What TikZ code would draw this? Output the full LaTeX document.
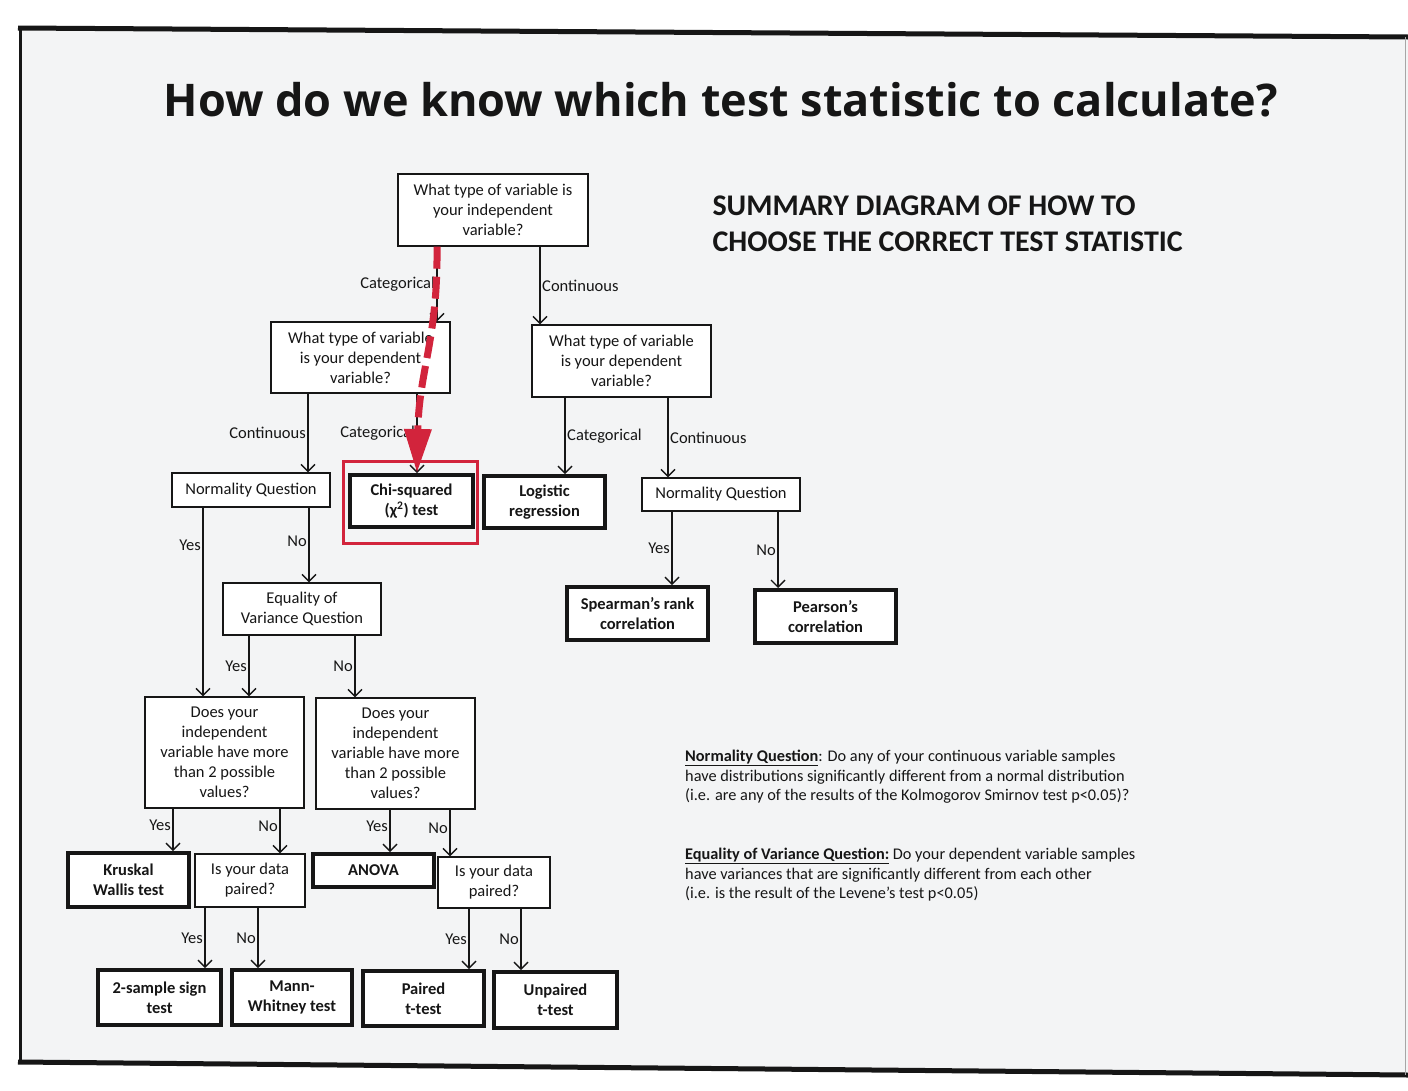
\documentclass[tikz,border=0pt]{standalone}
\usepackage{fontspec}
\setmainfont{Carlito}
\newfontfamily\titlefont{Open Sans}
\usetikzlibrary{arrows.meta}
\definecolor{ink}{HTML}{161616}
\definecolor{paper}{HTML}{F3F4F5}
\definecolor{redmark}{HTML}{D2243C}
\tikzset{
  qbox/.style={draw=ink, line width=1.4pt, fill=white, align=center, text=ink, inner sep=0pt,
    font=\fontsize{16.5}{20}\selectfont},
  rbox/.style={draw=ink, line width=4pt, fill=white, align=center, text=ink, inner sep=0pt,
    font=\bfseries\fontsize{16.5}{20}\selectfont},
  arr/.style={draw=ink, line width=1.4pt, -{Straight Barb[length=7pt,width=14pt,line width=1.4pt]}},
  lab/.style={text=ink, inner sep=1.5pt, font=\fontsize{16.5}{18}\selectfont},
  note/.style={text=ink, anchor=north west, align=left, inner sep=0pt, font=\fontsize{16.3}{19.5}\selectfont},
}
\begin{document}
\begin{tikzpicture}[x=1pt,y=-1pt]
\useasboundingbox (0,0) rectangle (1408,1090);
\fill[white] (0,0) rectangle (1408,1090);
\fill[paper] (20,28) -- (1408,37) -- (1408,1075) -- (20,1062) -- cycle;
% frame
\draw[ink, line width=5pt] (18,28) -- (1408,37);
\draw[ink, line width=3pt] (20,28) -- (20,1063);
\draw[ink, line width=5pt] (18,1062) -- (1408,1075);
\draw[black!35, line width=1pt] (1405,37) -- (1405,1075);

% title
\node[text=ink, font=\titlefont\bfseries\fontsize{45}{50}\selectfont] (title) at (721,100) {How do we know which test statistic to calculate?};
\node[text=ink, anchor=west, align=left, font=\bfseries\fontsize{30}{36}\selectfont] (summary) at (709,224) {SUMMARY DIAGRAM OF HOW TO\\CHOOSE THE CORRECT TEST STATISTIC};

% nodes
\node[qbox, minimum width=190pt, minimum height=72pt] (top) at (493,210) {What type of variable is\\your independent\\variable?};
\node[qbox, minimum width=179pt, minimum height=71pt] (dl) at (360.5,357.5) {What type of variable\\is your dependent\\variable?};
\node[qbox, minimum width=179pt, minimum height=72pt] (dr) at (621.5,361) {What type of variable\\is your dependent\\variable?};
\node[qbox, minimum width=158pt, minimum height=34pt] (nq1) at (251,490) {Normality Question};
\node[draw=redmark, line width=3pt, minimum width=134pt, minimum height=82pt] (redbox) at (410,502) {};
\node[rbox, minimum width=123pt, minimum height=52pt] (chi) at (411.5,501) {Chi-squared\\(χ\textsuperscript{2}) test};
\node[rbox, minimum width=121pt, minimum height=52pt] (log) at (544.5,502) {Logistic\\regression};
\node[qbox, minimum width=158pt, minimum height=33pt] (nq2) at (721,494.5) {Normality Question};
\node[rbox, minimum width=141pt, minimum height=53pt] (spr) at (637.5,613.5) {Spearman's rank\\correlation};
\node[rbox, minimum width=141pt, minimum height=53pt] (prs) at (825.5,616.5) {Pearson's\\correlation};
\node[qbox, minimum width=158pt, minimum height=52pt] (eq) at (302,609) {Equality of\\Variance Question};
\node[qbox, minimum width=159pt, minimum height=111pt] (dv1) at (224.5,752.5) {Does your\\independent\\variable have more\\than 2 possible\\values?};
\node[qbox, minimum width=159pt, minimum height=111pt] (dv2) at (395.5,753.5) {Does your\\independent\\variable have more\\than 2 possible\\values?};
\node[rbox, minimum width=121pt, minimum height=54pt] (kw) at (128.5,880) {Kruskal\\Wallis test};
\node[qbox, minimum width=110pt, minimum height=53pt] (ip1) at (250,880.5) {Is your data\\paired?};
\node[rbox, minimum width=121pt, minimum height=33pt] (anova) at (373.5,870.5) {ANOVA};
\node[qbox, minimum width=112pt, minimum height=51pt] (ip2) at (494,882.5) {Is your data\\paired?};
\node[rbox, minimum width=123pt, minimum height=55pt] (ts) at (159.5,997.5) {2-sample sign\\test};
\node[rbox, minimum width=120pt, minimum height=55pt] (mw) at (292,997.5) {Mann-\\Whitney test};
\node[rbox, minimum width=121pt, minimum height=55pt] (pt) at (423.5,998.5) {Paired\\t-test};
\node[rbox, minimum width=123pt, minimum height=56pt] (ut) at (555.5,1000) {Unpaired\\t-test};

% column coordinates
\path (437,0) coordinate (xa) (540,0) coordinate (xb) (308,0) coordinate (xc) (417,0) coordinate (xd)
      (565,0) coordinate (xe) (668,0) coordinate (xf) (672,0) coordinate (xg) (778,0) coordinate (xh)
      (203,0) coordinate (xi) (309,0) coordinate (xj) (249,0) coordinate (xk) (355,0) coordinate (xl)
      (173,0) coordinate (xm) (280,0) coordinate (xn) (390,0) coordinate (xo) (450,0) coordinate (xp)
      (205,0) coordinate (xq) (258,0) coordinate (xr) (469,0) coordinate (xs) (521,0) coordinate (xt);

% connectors
\draw[arr] (top.south -| xa) -- node[lab,left]{Categorical} (dl.north -| xa);
\draw[arr] (top.south -| xb) -- node[lab,right]{Continuous} (dr.north -| xb);
\draw[arr] (dl.south -| xc) -- node[lab,left]{Continuous} (nq1.north -| xc);
\draw[arr] (dl.south -| xd) -- node[lab,left]{Categorical} (chi.north -| xd);
\draw[arr] (dr.south -| xe) -- node[lab,right]{Categorical} (log.north -| xe);
\draw[arr] (dr.south -| xf) -- node[lab,right]{Continuous} (nq2.north -| xf);
\draw[arr] (nq2.south -| xg) -- node[lab,left]{Yes} (spr.north -| xg);
\draw[arr] (nq2.south -| xh) -- node[lab,left]{No} (prs.north -| xh);
\draw[arr] (nq1.south -| xi) -- node[lab,left,pos=0.2]{Yes} (dv1.north -| xi);
\draw[arr] (nq1.south -| xj) -- node[lab,left,pos=0.45]{No} (eq.north -| xj);
\draw[arr] (eq.south -| xk) -- node[lab,left]{Yes} (dv1.north -| xk);
\draw[arr] (eq.south -| xl) -- node[lab,left]{No} (dv2.north -| xl);
\draw[arr] (dv1.south -| xm) -- node[lab,left,pos=0.4]{Yes} (kw.north -| xm);
\draw[arr] (dv1.south -| xn) -- node[lab,left,pos=0.4]{No} (ip1.north -| xn);
\draw[arr] (dv2.south -| xo) -- node[lab,left,pos=0.4]{Yes} (anova.north -| xo);
\draw[arr] (dv2.south -| xp) -- node[lab,left,pos=0.4]{No} (ip2.north -| xp);
\draw[arr] (ip1.south -| xq) -- node[lab,left,pos=0.5]{Yes} (ts.north -| xq);
\draw[arr] (ip1.south -| xr) -- node[lab,left,pos=0.5]{No} (mw.north -| xr);
\draw[arr] (ip2.south -| xs) -- node[lab,left,pos=0.5]{Yes} (pt.north -| xs);
\draw[arr] (ip2.south -| xt) -- node[lab,left,pos=0.5]{No} (ut.north -| xt);

% red highlighted path
\draw[redmark, line width=7pt, dash pattern=on 22pt off 8pt,
  -{Triangle[length=44pt,width=26pt]}]
  (top.south -| xa) .. controls (438,340) and (419,370) .. (chi.north -| xd);

% notes
\node[note] (note1) at (685,750)
  {\textbf{\underline{Normality Question}}: Do any of your continuous variable samples\\
   have distributions significantly different from a normal distribution\\
   (i.e. are any of the results of the Kolmogorov Smirnov test p<0.05)?};
\node[note] (note2) at (685,848)
  {\textbf{\underline{Equality of Variance Question:}} Do your dependent variable samples\\
   have variances that are significantly different from each other\\
   (i.e. is the result of the Levene's test p<0.05)};
\end{tikzpicture}
\end{document}
